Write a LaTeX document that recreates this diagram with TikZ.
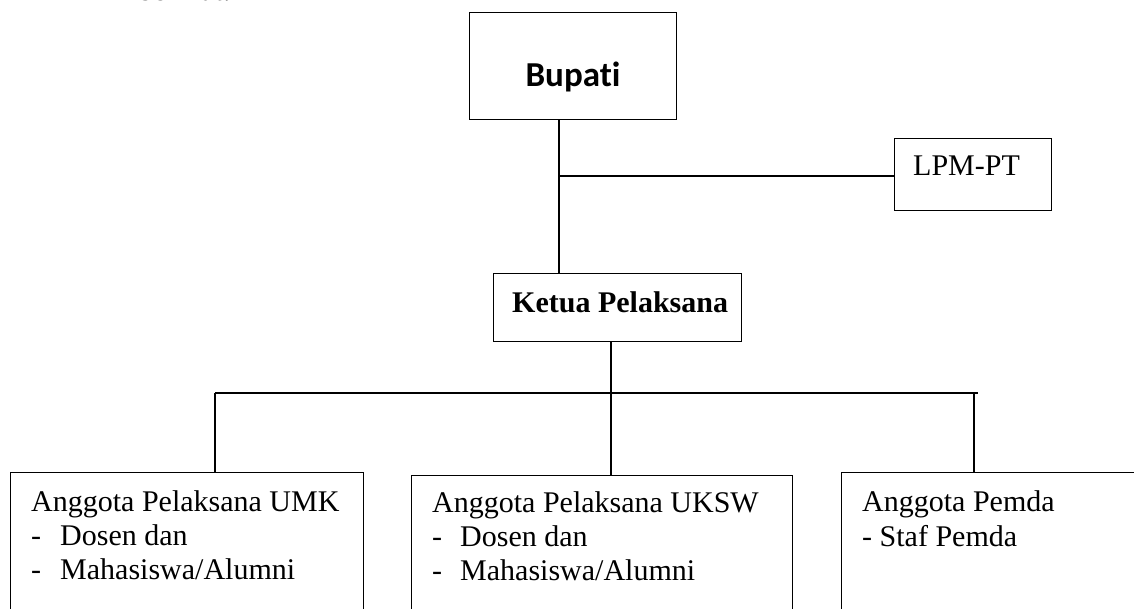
\documentclass[tikz,border=0pt]{standalone}
\usepackage{fontspec}
\setmainfont{Liberation Serif}
\newfontfamily\calibrifont[Ligatures={NoCommon,NoRequired,NoContextual,NoRare}]{Carlito}
\begin{document}
\begin{tikzpicture}[x=1pt,y=-1pt,
  boxst/.style={draw,line width=1.1pt,rectangle,inner sep=0pt,anchor=north west},
  txt/.style={inner sep=0pt,anchor=base west,font=\fontsize{30}{34}\selectfont},
  conn/.style={line width=1.1pt}]
\useasboundingbox (0,0) rectangle (1134,608);
\clip (0,0) rectangle (1134,608);
\node[txt] (berikut) at (138,0.5) {berikut.};
% boxes
\node[boxst,minimum width=207pt,minimum height=107pt] (bupati) at (469,12) {};
\node[inner sep=0pt,anchor=base,font=\calibrifont\bfseries\fontsize{35}{40}\selectfont] (bupatitxt) at (573,86) {Bupat\kern0pt i};
\node[boxst,minimum width=157pt,minimum height=72pt] (lpm) at (894,138) {};
\node[txt] (lpmtxt) at (913,175) {LPM-PT};
\node[boxst,minimum width=248pt,minimum height=68pt] (ketua) at (493,273) {};
\node[txt,font=\bfseries\fontsize{30}{34}\selectfont] (ketuatxt) at (512,312) {Ketua Pelaksana};
\node[boxst,minimum width=353pt,minimum height=150pt] (umk) at (10,472) {};
\node[boxst,minimum width=381pt,minimum height=147pt] (uksw) at (411,475) {};
\node[boxst,minimum width=300pt,minimum height=150pt] (pemda) at (841,472) {};
% texts in lower boxes
\node[txt] (umk1) at (31,511) {Anggota Pelaksana UMK};
\node[txt] (umkd1) at (31,545) {-};
\node[txt] (umk2) at (60,545) {Dosen dan};
\node[txt] (umkd2) at (31,579) {-};
\node[txt] (umk3) at (60,579) {Mahasiswa/Alumni};
\node[txt] (uksw1) at (432,512) {Anggota Pelaksana UKSW};
\node[txt] (ukswd1) at (432,546) {-};
\node[txt] (uksw2) at (460,546) {Dosen dan};
\node[txt] (ukswd2) at (432,580) {-};
\node[txt] (uksw3) at (460,580) {Mahasiswa/Alumni};
\node[txt] (pemda1) at (862,511) {Anggota Pemda};
\node[txt] (pemda2) at (862,546) {- Staf Pemda};
% connectors
\coordinate (j1) at (559,176);
\coordinate (j2) at (611,393);
\coordinate (hl) at (215,393);
\coordinate (hr) at (978,393);
\coordinate (j3) at (974,393);
\draw[conn] (bupati.south -| j1) -- (ketua.north -| j1);
\draw[conn] (j1) -- (j1 -| lpm.west);
\draw[conn] (ketua.south -| j2) -- (uksw.north -| j2);
\draw[conn] (hl) -- (hr);
\draw[conn] (hl) -- (umk.north -| hl);
\draw[conn] (j3) -- (pemda.north -| j3);
\end{tikzpicture}
\end{document}
